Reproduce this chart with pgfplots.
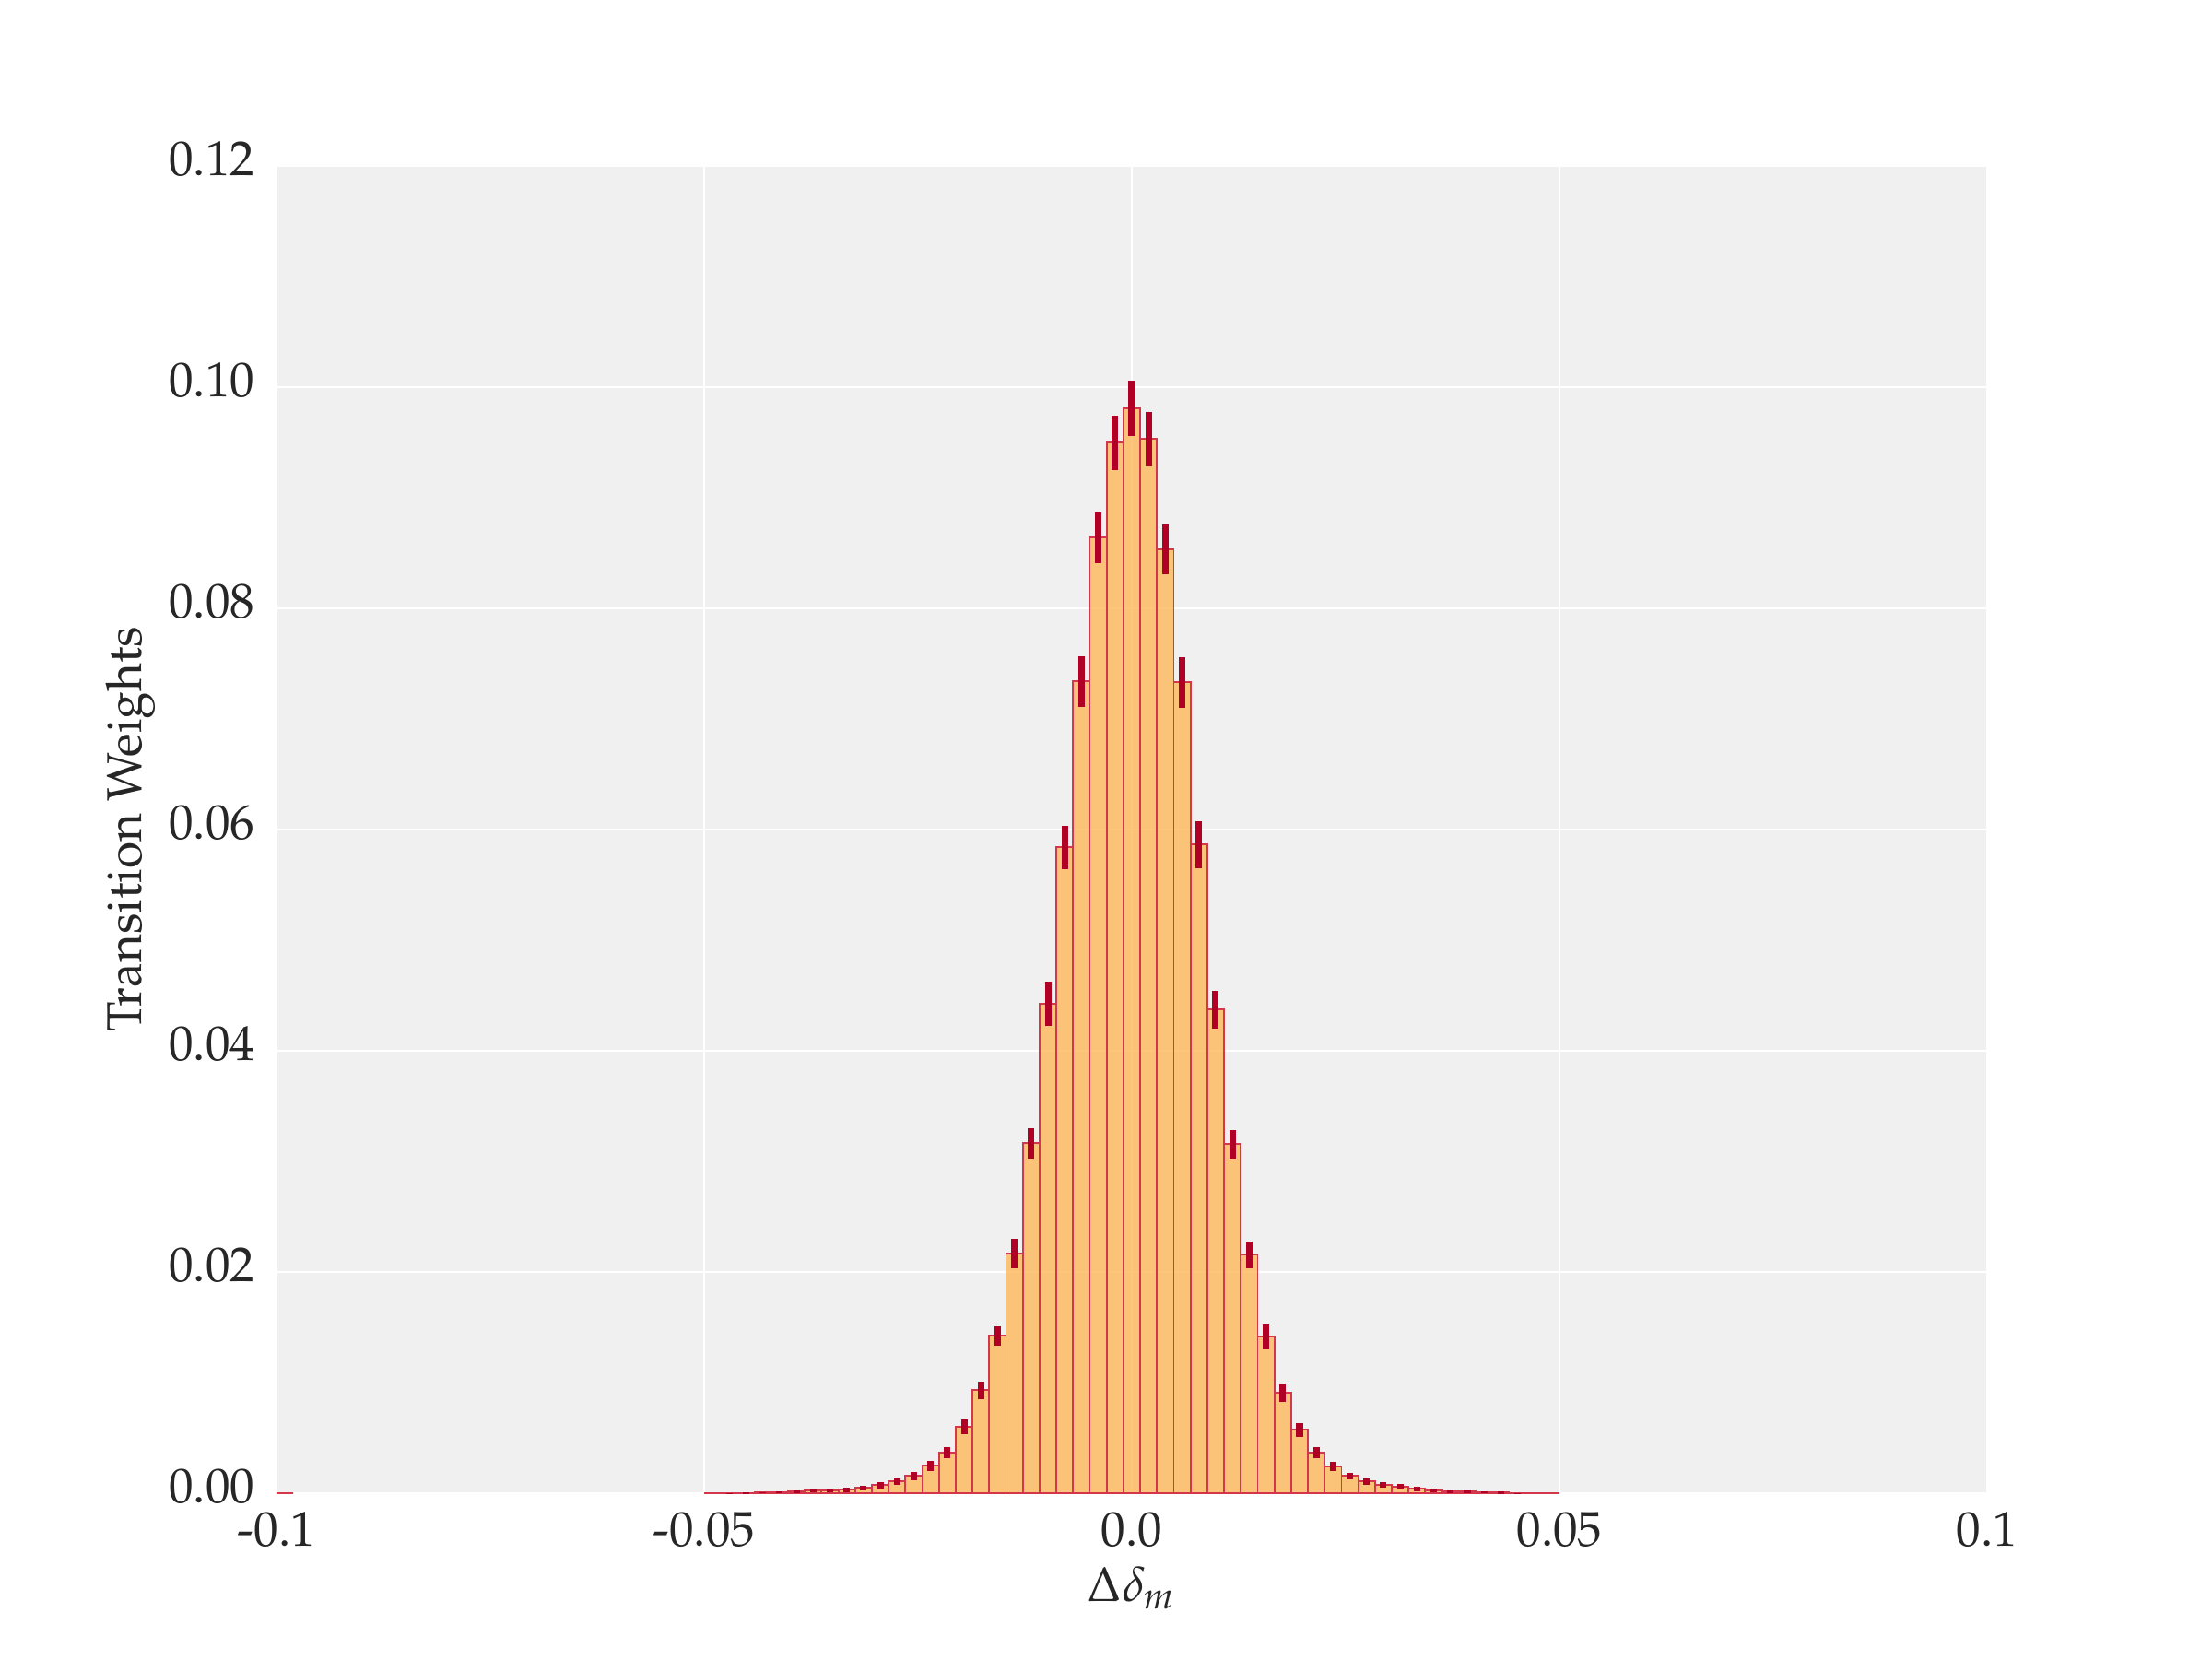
\documentclass[border=0pt]{standalone}
\usepackage[T1]{fontenc}
\usepackage{mathpazo}
\usepackage{pgfplots}
\pgfplotsset{compat=1.18}
\usepackage{pgfplotstable}
\definecolor{bg}{RGB}{240,240,240}
\definecolor{barfill}{RGB}{254,180,80}
\definecolor{baredge}{RGB}{210,55,75}
\definecolor{errc}{RGB}{176,0,38}
\definecolor{txt}{RGB}{38,38,38}

\pgfplotstableread{
x y e
-0.09902 0 0
-0.04902 0 0
-0.04706 0 0.00002
-0.04510 0.00003 0.00003
-0.04314 0.00006 0.00005
-0.04118 0.00007 0.00010
-0.03922 0.00014 0.00014
-0.03725 0.00022 0.00015
-0.03529 0.00022 0.00014
-0.03333 0.00031 0.00020
-0.03137 0.00047 0.00022
-0.02941 0.00072 0.00028
-0.02745 0.00106 0.00030
-0.02549 0.00156 0.00036
-0.02353 0.00247 0.00043
-0.02157 0.00364 0.00050
-0.01961 0.00597 0.00067
-0.01765 0.00931 0.00080
-0.01569 0.01422 0.00090
-0.01373 0.02164 0.00133
-0.01176 0.03164 0.00140
-0.00980 0.04422 0.00200
-0.00784 0.05839 0.00195
-0.00588 0.07339 0.00230
-0.00392 0.08639 0.00230
-0.00196 0.09497 0.00245
0.00000 0.09806 0.00250
0.00196 0.09531 0.00245
0.00392 0.08531 0.00225
0.00588 0.07331 0.00230
0.00784 0.05864 0.00210
0.00980 0.04372 0.00170
0.01176 0.03156 0.00130
0.01373 0.02156 0.00120
0.01569 0.01414 0.00110
0.01765 0.00906 0.00080
0.01961 0.00572 0.00065
0.02157 0.00364 0.00050
0.02353 0.00239 0.00042
0.02549 0.00156 0.00029
0.02745 0.00106 0.00030
0.02941 0.00072 0.00026
0.03137 0.00056 0.00025
0.03333 0.00039 0.00022
0.03529 0.00022 0.00016
0.03725 0.00014 0.00012
0.03922 0.00014 0.00013
0.04118 0.00006 0.00010
0.04314 0.00005 0.00010
0.04510 0 0.00002
0.04706 0 0
0.04902 0 0
}\histdata

\begin{document}
\begin{tikzpicture}
\useasboundingbox (-1in,-0.6in) rectangle (7in,5.4in);
\begin{axis}[
  at={(0,0)}, anchor=south west,
  scale only axis, width=6.1867in, height=4.8in,
  xmin=-0.1, xmax=0.1, ymin=0, ymax=0.12,
  axis background/.style={fill=bg},
  axis line style={draw=none},
  major tick length=0pt,
  xtick={-0.1,-0.05,0,0.05,0.1},
  xticklabels={-0.1,-0.05,0.0,0.05,0.1},
  ytick={0,0.02,0.04,0.06,0.08,0.10,0.12},
  yticklabels={0.00,0.02,0.04,0.06,0.08,0.10,0.12},
  grid=major,
  grid style={white, line width=0.7pt},
  tick label style={font=\fontsize{12.8}{15}\selectfont, text=txt, inner sep=0pt},
  xticklabel style={anchor=base, yshift=-13.9pt},
  yticklabel style={anchor=base east, xshift=-5.5pt, yshift=-2.6pt},
  label style={font=\fontsize{12.8}{15}\selectfont, text=txt, inner sep=0pt},
  xlabel={$\Delta\delta_m$},
  ylabel={Transition Weights},
  xlabel style={at={(axis description cs:0.5,-0.0819)}, anchor=base},
  ylabel style={at={(axis description cs:-0.0792,0.5)}, anchor=base},
]
\addplot[ybar, bar width=0.0019608, fill=barfill, fill opacity=0.75,
  draw=baredge, line width=0.45pt,
  error bars/.cd, y dir=both, y explicit,
  error bar style={line width=1.7pt, draw=errc, draw opacity=1},
  error mark=none]
  table[x=x, y=y, y error=e] {\histdata};
\end{axis}
\end{tikzpicture}
\end{document}
